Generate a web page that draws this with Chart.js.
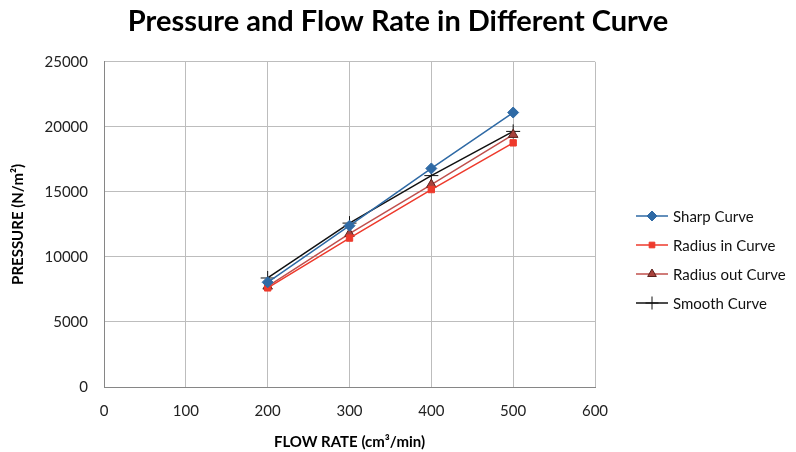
<!DOCTYPE html>
<html>
<head>
<meta charset="utf-8">
<script src="https://cdn.jsdelivr.net/npm/chart.js@4"></script>
<style>
  html, body { margin: 0; padding: 0; background: #fff; }
  #wrap { width: 796px; height: 452px; }
</style>
</head>
<body>
<div id="wrap"><canvas id="chart" width="796" height="452"></canvas></div>
<script>
const flowRates = [200, 300, 400, 500];
const sharpCurve = [8050, 12400, 16800, 21100];
const radiusInCurve = [7620, 11450, 15180, 18770];
const radiusOutCurve = [7740, 11790, 15560, 19400];
const smoothCurve = [8380, 12600, 16250, 19650];
const xTicks = [0, 100, 200, 300, 400, 500, 600];
const yTicks = [0, 5000, 10000, 15000, 20000, 25000];

const FONT = 'Lato, "Open Sans", sans-serif';

function toPoints(values) {
    return flowRates.map((x, i) => ({ x: x, y: values[i] }));
}

const seriesStyles = [
    { label: 'Sharp Curve', data: sharpCurve, color: '#2f6aa5', fill: '#2f6aa5', border: '#2f6aa5', style: 'rectRot', radius: 5.5 },
    { label: 'Radius in Curve', data: radiusInCurve, color: '#ee3a2c', fill: '#ee3a2c', border: '#ee3a2c', style: 'rect', radius: 4.5 },
    { label: 'Radius out Curve', data: radiusOutCurve, color: '#c0504d', fill: '#a8413c', border: '#5a201c', style: 'triangle', radius: 5.5 },
    { label: 'Smooth Curve', data: smoothCurve, color: '#111111', fill: '#111111', border: '#111111', style: 'cross', radius: 7 }
];

// legend drawn as line + marker, like the original
const sideLegend = {
    id: 'sideLegend',
    afterDraw(chart) {
        const ctx = chart.ctx;
        ctx.save();
        ctx.font = '15px ' + FONT;
        ctx.textBaseline = 'middle';
        ctx.textAlign = 'left';
        seriesStyles.forEach((s, i) => {
            const y = 216 + i * 29;
            ctx.strokeStyle = s.color;
            ctx.lineWidth = 1.5;
            ctx.beginPath();
            ctx.moveTo(636, y);
            ctx.lineTo(668, y);
            ctx.stroke();
            ctx.fillStyle = s.fill;
            ctx.strokeStyle = s.border;
            ctx.lineWidth = 1;
            Chart.helpers.drawPoint(ctx, { pointStyle: s.style, radius: s.radius - 0.5, borderWidth: 1 }, 652, y);
            ctx.fillStyle = '#111';
            ctx.fillText(s.label, 673, y + 1);
        });
        ctx.restore();
    }
};

const plainNumber = v => String(v);

new Chart(document.getElementById('chart'), {
    type: 'line',
    data: {
        datasets: seriesStyles.map(s => ({
            label: s.label,
            data: toPoints(s.data),
            borderColor: s.color,
            backgroundColor: s.fill,
            pointBorderColor: s.border,
            pointBackgroundColor: s.fill,
            pointStyle: s.style,
            pointRadius: s.radius,
            pointBorderWidth: 1,
            borderWidth: 1.5,
            tension: 0,
            fill: false
        }))
    },
    options: {
        responsive: false,
        animation: false,
        layout: { padding: 0 },
        plugins: {
            legend: { display: false },
            tooltip: { enabled: false },
            title: {
                display: true,
                text: 'Pressure and Flow Rate in Different Curve',
                color: '#000',
                font: { family: FONT, size: 29, weight: 'bold' },
                padding: { top: 4, bottom: 23 }
            }
        },
        scales: {
            x: {
                type: 'linear',
                min: 0,
                max: 600,
                afterBuildTicks: axis => { axis.ticks = xTicks.map(v => ({ value: v })); },
                afterFit: axis => { axis.height = 65; },
                grid: { color: '#bdbdbd', lineWidth: 1, drawTicks: false },
                border: { color: '#868686', width: 1 },
                ticks: { color: '#222', padding: 15, font: { family: FONT, size: 15 }, callback: plainNumber },
                title: {
                    display: true,
                    text: 'FLOW RATE (cm³/min)',
                    color: '#000',
                    font: { family: FONT, size: 15, weight: 'bold' },
                    padding: { bottom: 1 }
                }
            },
            y: {
                min: 0,
                max: 25000,
                afterBuildTicks: axis => { axis.ticks = yTicks.map(v => ({ value: v })); },
                afterFit: axis => { axis.width = 104; },
                grid: { color: '#bdbdbd', lineWidth: 1, drawTicks: false },
                border: { color: '#868686', width: 1 },
                ticks: { color: '#222', padding: 16, font: { family: FONT, size: 15 }, callback: plainNumber },
                title: {
                    display: true,
                    text: 'PRESSURE (N/m²)',
                    color: '#000',
                    font: { family: FONT, size: 15, weight: 'bold' },
                    padding: { top: 9 }
                }
            },
            // empty right-hand scale that reserves room for the legend
            legendSpace: {
                type: 'linear',
                position: 'right',
                display: true,
                afterFit: axis => { axis.width = 201; },
                grid: { display: false, drawOnChartArea: false },
                border: { display: false },
                ticks: { display: false }
            }
        }
    },
    plugins: [sideLegend]
});
</script>
</body>
</html>
